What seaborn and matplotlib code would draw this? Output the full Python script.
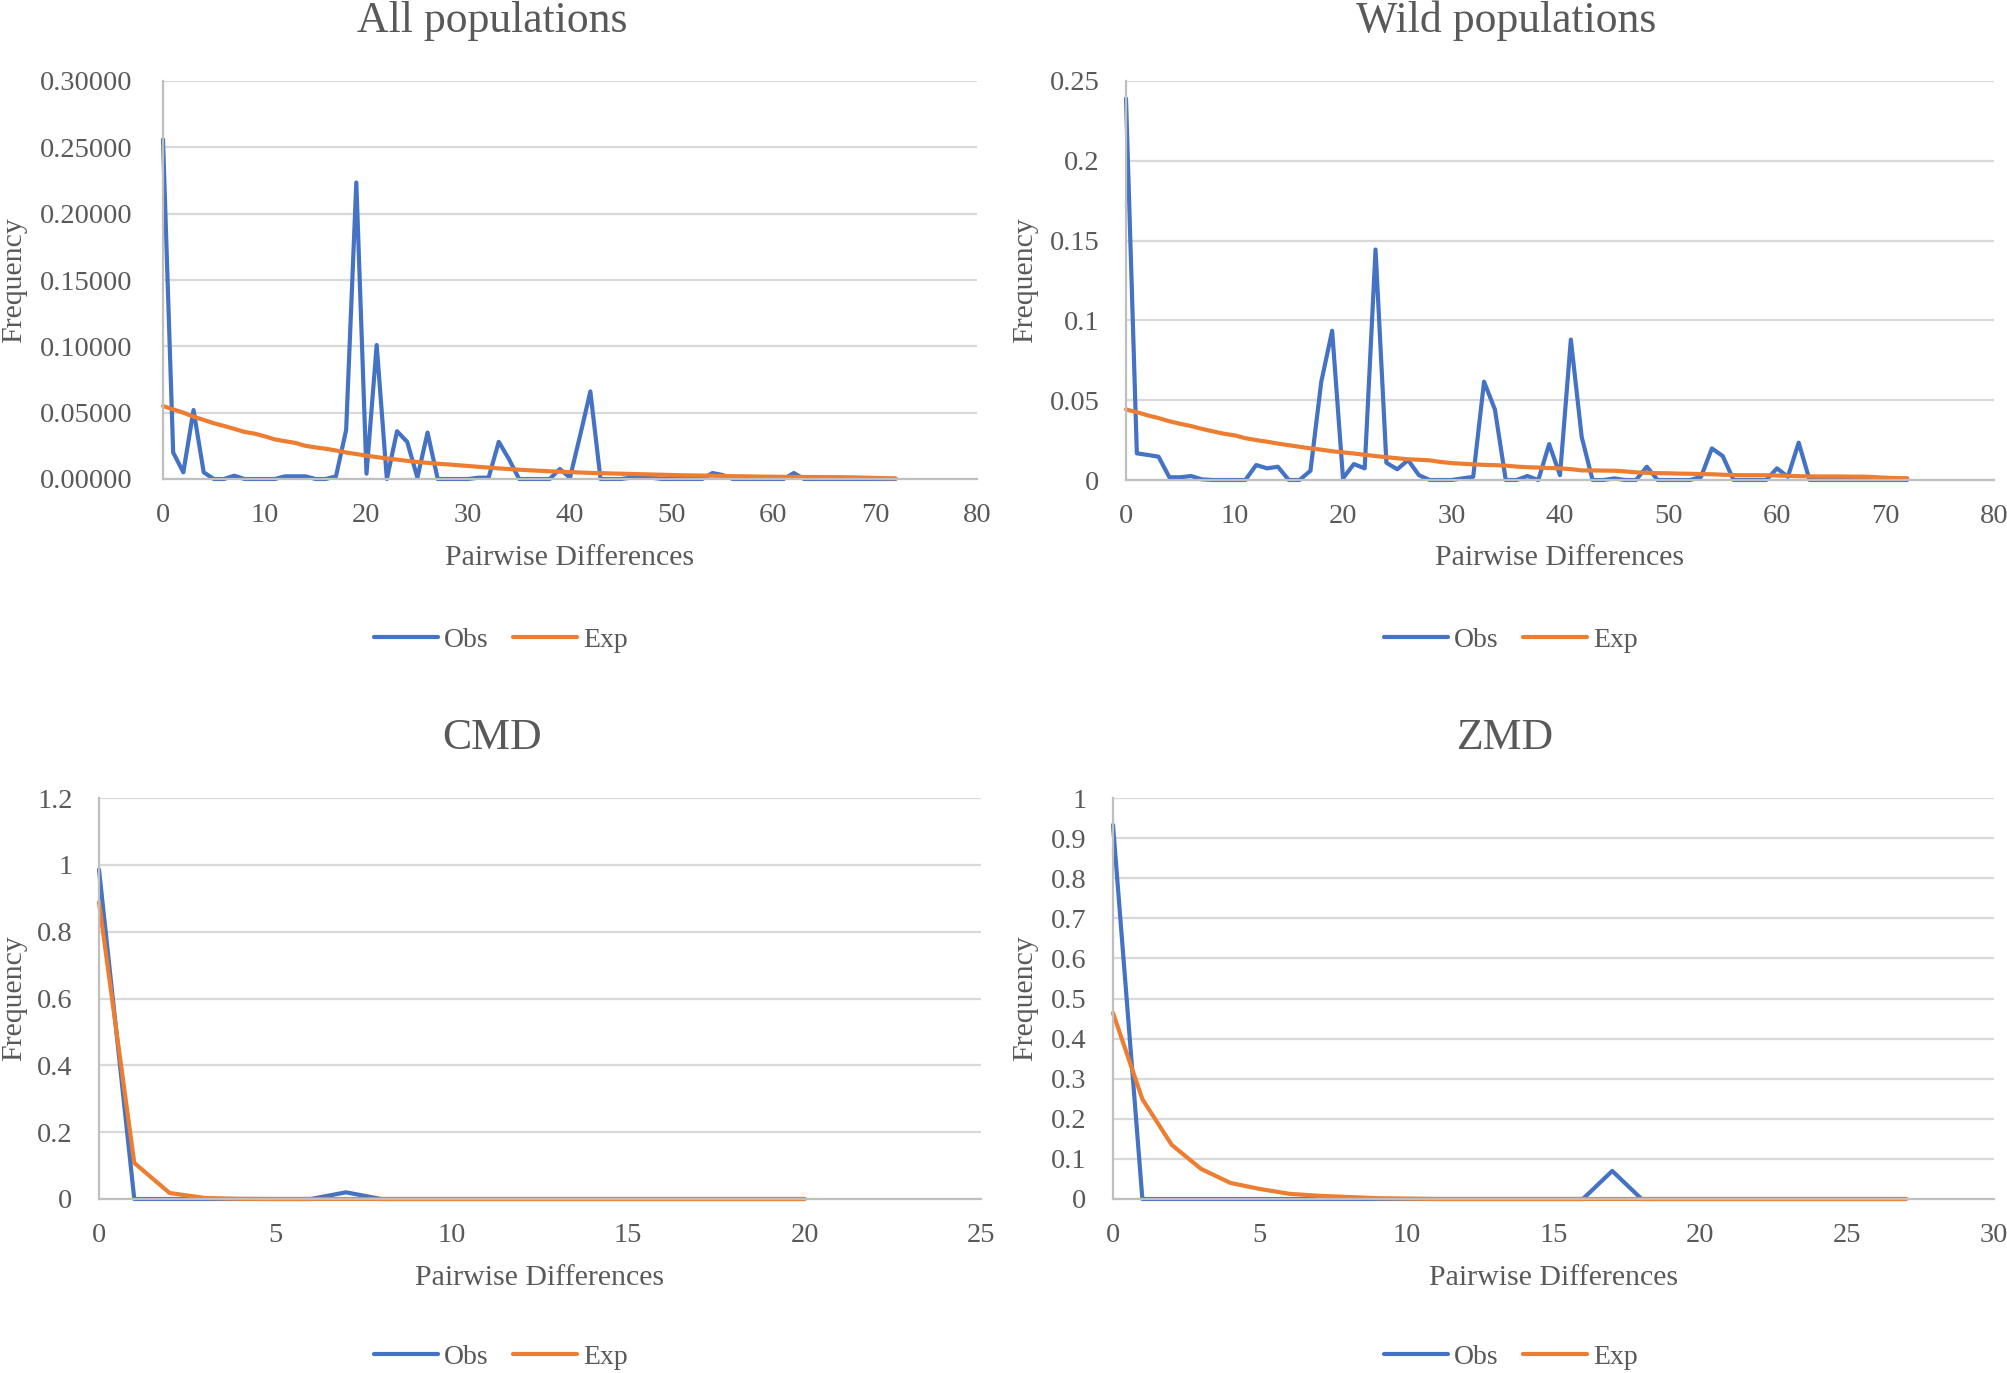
import numpy as np
import pandas as pd
import matplotlib
matplotlib.use("Agg")
import matplotlib.pyplot as plt
import seaborn as sns
from matplotlib.ticker import FuncFormatter
from matplotlib.lines import Line2D

# Mismatch distributions (x = pairwise differences)
all_obs = [0.256, 0.020, 0.005, 0.052, 0.005, 0.0, 0.0, 0.0025, 0.0, 0.0,
           0.0, 0.0, 0.002, 0.002, 0.002, 0.0, 0.0, 0.002, 0.037, 0.2235,
           0.004, 0.101, 0.0, 0.036, 0.028, 0.001, 0.035, 0.0, 0.0, 0.0,
           0.0, 0.001, 0.001, 0.028, 0.015, 0.0, 0.0, 0.0, 0.0, 0.0075,
           0.001, 0.033, 0.066, 0.0, 0.0, 0.0, 0.001, 0.002, 0.001, 0.0,
           0.0, 0.0, 0.0, 0.0, 0.0045, 0.003, 0.0, 0.0, 0.0, 0.0,
           0.0, 0.0, 0.0045, 0.0, 0.0, 0.0, 0.0, 0.0, 0.0, 0.0,
           0.0, 0.0, 0.0]
all_exp = [0.0550, 0.0525, 0.0500, 0.0470, 0.0445, 0.0420, 0.0400, 0.0378, 0.0355, 0.0342,
           0.0322, 0.0298, 0.0285, 0.0272, 0.0250, 0.0238, 0.0228, 0.0215, 0.0200, 0.0188,
           0.0176, 0.0165, 0.0155, 0.0146, 0.0137, 0.0128, 0.0122, 0.0115, 0.0110, 0.0104,
           0.0098, 0.0092, 0.0086, 0.0080, 0.0075, 0.0070, 0.0066, 0.0062, 0.0058, 0.0055,
           0.0052, 0.0049, 0.0046, 0.0044, 0.0042, 0.0040, 0.0038, 0.0036, 0.0034, 0.0032,
           0.0030, 0.0028, 0.0027, 0.0026, 0.0025, 0.0023, 0.0021, 0.0020, 0.0019, 0.0018,
           0.0017, 0.0016, 0.0016, 0.0015, 0.0015, 0.0014, 0.0014, 0.0013, 0.0012, 0.0010,
           0.0008, 0.0006, 0.0005]

wild_obs = [0.239, 0.0167, 0.0157, 0.0146, 0.0017, 0.0017, 0.0025, 0.0004, 0.0, 0.0,
            0.0, 0.0, 0.0094, 0.0073, 0.0083, 0.0, 0.0, 0.0058, 0.0616, 0.0935,
            0.001, 0.010, 0.0073, 0.1444, 0.0108, 0.0067, 0.0125, 0.003, 0.0, 0.0,
            0.0, 0.001, 0.002, 0.0616, 0.0442, 0.0, 0.0, 0.0025, 0.0, 0.0225,
            0.003, 0.088, 0.027, 0.0, 0.0, 0.001, 0.0, 0.0, 0.0083, 0.0,
            0.0, 0.0, 0.0, 0.002, 0.0198, 0.015, 0.0, 0.0, 0.0, 0.0,
            0.0073, 0.002, 0.0234, 0.0, 0.0, 0.0, 0.0, 0.0, 0.0, 0.0,
            0.0, 0.0, 0.0]
wild_exp = [0.0442, 0.0425, 0.0405, 0.0388, 0.0368, 0.0352, 0.0338, 0.0320, 0.0305, 0.0290,
            0.0280, 0.0262, 0.0250, 0.0240, 0.0228, 0.0218, 0.0208, 0.0198, 0.0190, 0.0180,
            0.0173, 0.0166, 0.0158, 0.0150, 0.0143, 0.0136, 0.0130, 0.0127, 0.0123, 0.0113,
            0.0106, 0.0102, 0.0098, 0.0095, 0.0093, 0.0090, 0.0084, 0.0080, 0.0078, 0.0075,
            0.0073, 0.0068, 0.0060, 0.0060, 0.0059, 0.0058, 0.0054, 0.0048, 0.0045, 0.0043,
            0.0042, 0.0040, 0.0039, 0.0037, 0.0036, 0.0033, 0.0031, 0.0030, 0.0030, 0.0030,
            0.0028, 0.0026, 0.0024, 0.0023, 0.0022, 0.0022, 0.0022, 0.0021, 0.0021, 0.0018,
            0.0014, 0.0012, 0.0011]

cmd_obs = [0.986, 0.0, 0.0, 0.0, 0.0, 0.0, 0.0, 0.02, 0.0, 0.0,
           0.0, 0.0, 0.0, 0.0, 0.0, 0.0, 0.0, 0.0, 0.0, 0.0, 0.0]
cmd_exp = [0.888, 0.108, 0.018, 0.003, 0.0005, 0.0, 0.0, 0.0, 0.0, 0.0,
           0.0, 0.0, 0.0, 0.0, 0.0, 0.0, 0.0, 0.0, 0.0, 0.0, 0.0]

zmd_obs = [0.933, 0.0, 0.0, 0.0, 0.0, 0.0, 0.0, 0.0, 0.0, 0.0,
           0.0, 0.0, 0.0, 0.0, 0.0, 0.0, 0.0, 0.07, 0.0, 0.0,
           0.0, 0.0, 0.0, 0.0, 0.0, 0.0, 0.0, 0.0]
zmd_exp = [0.464, 0.249, 0.135, 0.075, 0.040, 0.025, 0.013, 0.008, 0.005, 0.002,
           0.001, 0.0, 0.0, 0.0, 0.0, 0.0, 0.0, 0.0, 0.0, 0.0,
           0.0, 0.0, 0.0, 0.0, 0.0, 0.0, 0.0, 0.0]

titles = ["All populations", "Wild populations", "CMD", "ZMD"]
series = [(all_obs, all_exp), (wild_obs, wild_exp), (cmd_obs, cmd_exp), (zmd_obs, zmd_exp)]

palette = {"Obs": "#4472C4", "Exp": "#ED7D31"}
grey_txt = "#595959"

sns.set_style("white")
plt.rcParams['font.family'] = ['Liberation Serif', 'DejaVu Serif']

W, H = 2008, 1373
fig = plt.figure(figsize=(W / 100, H / 100), dpi=100)

# plot box in pixels (x0, x1, ytop, ybot) plus axis ranges and text positions
panels = [
    dict(box=(163, 977, 81, 479), ymax=0.30, ystep=0.05, xmax=80, xstep=10, fmt="{:.5f}",
         title_xy=(492, 32), leg_xy=(501, 640), ylab_x=27, ypad=22, xlab_top=545),
    dict(box=(1126, 1994, 81, 480), ymax=0.25, ystep=0.05, xmax=80, xstep=10, fmt="{:g}",
         title_xy=(1506, 32), leg_xy=(1511, 640), ylab_x=1038, ypad=19, xlab_top=545),
    dict(box=(99, 981, 798, 1199), ymax=1.2, ystep=0.2, xmax=25, xstep=5, fmt="{:g}",
         title_xy=(492, 749), leg_xy=(501, 1357), ylab_x=27, ypad=19, xlab_top=1265),
    dict(box=(1113, 1994, 798, 1199), ymax=1.0, ystep=0.1, xmax=30, xstep=5, fmt="{:g}",
         title_xy=(1506, 749), leg_xy=(1511, 1357), ylab_x=1038, ypad=19, xlab_top=1265),
]

for p, title, (obs, exp) in zip(panels, titles, series):
    x0, x1, yt, yb = p["box"]
    ax = fig.add_axes([x0 / W, 1 - yb / H, (x1 - x0) / W, (yb - yt) / H])

    n = len(obs)
    df = pd.DataFrame({
        "Pairwise Differences": list(range(n)) * 2,
        "Frequency": obs + exp,
        "Series": ["Obs"] * n + ["Exp"] * n,
    })
    sns.lineplot(data=df, x="Pairwise Differences", y="Frequency", hue="Series",
                 hue_order=["Obs", "Exp"], palette=palette, linewidth=3.0,
                 errorbar=None, legend=False, ax=ax)
    for ln in ax.lines:
        ln.set_clip_on(False)
        ln.set_solid_joinstyle("round")

    ax.set_xlim(0, p["xmax"])
    ax.set_ylim(0, p["ymax"])
    ax.set_xticks(np.arange(0, p["xmax"] + 1, p["xstep"]))
    ax.set_yticks(np.round(np.arange(0, p["ymax"] + p["ystep"] / 2, p["ystep"]), 4))
    fmt = p["fmt"]
    ax.yaxis.set_major_formatter(FuncFormatter(lambda v, _, f=fmt: f.format(round(v, 4))))

    ax.yaxis.grid(True, color="#D9D9D9", linewidth=1.6)
    ax.xaxis.grid(False)
    ax.set_axisbelow(True)
    for side in ["top", "right"]:
        ax.spines[side].set_visible(False)
    for side in ["left", "bottom"]:
        ax.spines[side].set_color("#BFBFBF")
        ax.spines[side].set_linewidth(1.6)

    ax.tick_params(axis="both", length=0, labelsize=20.5, labelcolor=grey_txt)
    ax.tick_params(axis="y", pad=p["ypad"])
    ax.tick_params(axis="x", pad=17)

    ax.set_xlabel("Pairwise Differences", fontsize=21.5, color=grey_txt)
    ax.set_ylabel("Frequency", fontsize=21.5, color=grey_txt)
    ax.xaxis.set_label_coords(0.5, (yb - p["xlab_top"]) / (yb - yt))
    ax.yaxis.set_label_coords((p["ylab_x"] - x0) / (x1 - x0), 0.5)

    fig.text(p["title_xy"][0] / W, 1 - p["title_xy"][1] / H, title, fontsize=31.5,
             color=grey_txt, ha="center", va="baseline")

    handles = [Line2D([0], [0], color=palette[k], linewidth=3.0) for k in ["Obs", "Exp"]]
    ax.legend(handles, ["Obs", "Exp"], loc="center", ncol=2, frameon=False,
              bbox_to_anchor=(p["leg_xy"][0] / W, 1 - p["leg_xy"][1] / H),
              bbox_transform=fig.transFigure, fontsize=20, labelcolor=grey_txt,
              handlelength=2.3, handletextpad=0.2, columnspacing=0.9)

fig.savefig("out.png", dpi=100)
